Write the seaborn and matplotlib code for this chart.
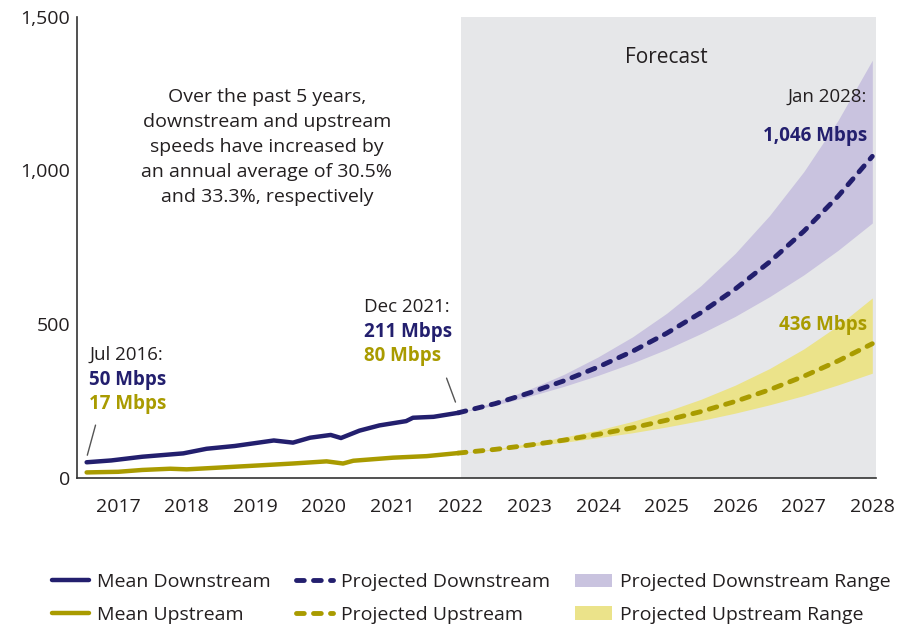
import numpy as np
import pandas as pd
import matplotlib
matplotlib.use("Agg")
import matplotlib.pyplot as plt
from matplotlib.lines import Line2D
from matplotlib.patches import Patch
import seaborn as sns

# historical mean speeds (Mbps)
down_years = [2016.54, 2016.9, 2017.35, 2017.95, 2018.29, 2018.7, 2019.27, 2019.55, 2019.8,
              2020.1, 2020.25, 2020.52, 2020.81, 2021.2, 2021.3, 2021.6, 2021.96]
down_vals = [50, 56, 68, 79, 94, 103, 121, 114, 130, 139, 129, 153, 170, 184, 195, 198, 211]

up_years = [2016.54, 2017.0, 2017.35, 2017.76, 2018.0, 2018.5, 2019.07, 2019.55, 2020.04,
            2020.28, 2020.43, 2021.01, 2021.5, 2021.96]
up_vals = [17, 19, 25, 29, 27, 33, 40, 46, 53, 46, 55, 65, 70, 80]

# projections
proj_years = [2021.96, 2022.5, 2023, 2023.5, 2024, 2024.5, 2025, 2025.5, 2026, 2026.5, 2027, 2027.5, 2028]
proj_down = [211, 241, 276, 315, 360, 411, 470, 537, 614, 702, 802, 916, 1046]
proj_down_hi = [211, 246, 288, 336, 393, 458, 535, 625, 730, 853, 996, 1163, 1359]
proj_down_lo = [211, 236, 265, 297, 333, 373, 418, 469, 525, 589, 660, 740, 829]
proj_up = [80, 92, 106, 122, 141, 162, 187, 215, 248, 286, 330, 380, 436]
proj_up_hi = [80, 94, 111, 132, 155, 183, 216, 255, 301, 355, 419, 495, 585]
proj_up_lo = [80, 90, 102, 115, 130, 146, 165, 186, 210, 237, 267, 302, 340]

x_ticks = list(range(2017, 2029))
y_ticks = [0, 500, 1000, 1500]
y_labels = ["0", "500", "1,000", "1,500"]

NAVY = "#231f6e"
OLIVE = "#a99b00"
PURPLE = "#c9c3df"
YELLOW = "#ebe38a"
GREY = "#e6e7e9"
TXT = "#231f20"

sns.set_theme(style="white")
plt.rcParams["font.family"] = ["Open Sans", "DejaVu Sans"]

fig = plt.figure(figsize=(9.17, 6.26), dpi=100)
ax = fig.add_axes([0.084, 0.237, 0.871, 0.736])

ax.axvspan(2022, 2028.05, color=GREY, lw=0, zorder=0)

ax.fill_between(proj_years, proj_down_lo, proj_down_hi, color=PURPLE, lw=0, zorder=1)
ax.fill_between(proj_years, proj_up_lo, proj_up_hi, color=YELLOW, lw=0, zorder=1)

hist_d = pd.DataFrame({"year": down_years, "speed": down_vals})
hist_u = pd.DataFrame({"year": up_years, "speed": up_vals})
proj = pd.DataFrame({"year": proj_years, "down": proj_down, "up": proj_up})

sns.lineplot(data=hist_d, x="year", y="speed", ax=ax, color=NAVY, lw=3.2,
             solid_capstyle="round", zorder=3)
sns.lineplot(data=hist_u, x="year", y="speed", ax=ax, color=OLIVE, lw=3.2,
             solid_capstyle="round", zorder=3)
sns.lineplot(data=proj, x="year", y="down", ax=ax, color=NAVY, lw=3.5, zorder=3)
sns.lineplot(data=proj, x="year", y="up", ax=ax, color=OLIVE, lw=3.5, zorder=3)
for ln in ax.lines[2:4]:
    ln.set_dashes([1.6, 1.9])
    ln.set_dash_capstyle("round")

ax.set_xlim(2016.4, 2028.05)
ax.set_ylim(0, 1500)
ax.set_xticks(x_ticks)
ax.set_xticklabels([str(y) for y in x_ticks])
ax.set_yticks(y_ticks)
ax.set_yticklabels(y_labels)
ax.set_xlabel("")
ax.set_ylabel("")
ax.tick_params(axis="x", length=0, pad=15, labelsize=14, labelcolor=TXT)
ax.tick_params(axis="y", length=0, pad=5, labelsize=14, labelcolor=TXT)
for s in ["top", "right"]:
    ax.spines[s].set_visible(False)
for s in ["left", "bottom"]:
    ax.spines[s].set_color("#333333")
    ax.spines[s].set_linewidth(1.2)

# annotations
ax.text(2025.0, 1368, "Forecast", ha="center", va="center", fontsize=15, color=TXT)
ax.text(2019.17, 1077, "Over the past 5 years,\ndownstream and upstream\nspeeds have increased by\n"
        "an annual average of 30.5%\nand 33.3%, respectively",
        ha="center", va="center", fontsize=14, color=TXT, linespacing=1.5)

ax.text(2016.58, 399, "Jul 2016:", ha="left", va="center", fontsize=13.5, color=TXT)
ax.text(2016.58, 318, "50 Mbps", ha="left", va="center", fontsize=13.5, color=NAVY, weight="bold")
ax.text(2016.58, 239, "17 Mbps", ha="left", va="center", fontsize=13.5, color=OLIVE, weight="bold")
ax.plot([2016.67, 2016.55], [171, 73], color="#555555", lw=1)

ax.text(2020.58, 555, "Dec 2021:", ha="left", va="center", fontsize=13.5, color=TXT)
ax.text(2020.58, 474, "211 Mbps", ha="left", va="center", fontsize=13.5, color=NAVY, weight="bold")
ax.text(2020.58, 396, "80 Mbps", ha="left", va="center", fontsize=13.5, color=OLIVE, weight="bold")
ax.plot([2021.79, 2021.92], [324, 246], color="#555555", lw=1)

ax.text(2027.92, 1239, "Jan 2028:", ha="right", va="center", fontsize=13.5, color=TXT)
ax.text(2027.92, 1112, "1,046 Mbps", ha="right", va="center", fontsize=13.5, color=NAVY, weight="bold")
ax.text(2027.92, 497, "436 Mbps", ha="right", va="center", fontsize=13.5, color=OLIVE, weight="bold")

handles = [
    Line2D([0], [0], color=NAVY, lw=3.2),
    Line2D([0], [0], color=OLIVE, lw=3.2),
    Line2D([0], [0], color=NAVY, lw=3.5, dashes=[1.6, 1.9], dash_capstyle="round"),
    Line2D([0], [0], color=OLIVE, lw=3.5, dashes=[1.6, 1.9], dash_capstyle="round"),
    Patch(facecolor=PURPLE, edgecolor="none"),
    Patch(facecolor=YELLOW, edgecolor="none"),
]
labels = ["Mean Downstream", "Mean Upstream", "Projected Downstream", "Projected Upstream",
          "Projected Downstream Range", "Projected Upstream Range"]
fig.legend(handles, labels, loc="center", bbox_to_anchor=(0.514, 0.044), ncol=3,
           frameon=False, fontsize=14, handlelength=1.9, handletextpad=0.4,
           columnspacing=1.3, labelspacing=0.75, labelcolor=TXT)

fig.savefig("out.png", dpi=100)
